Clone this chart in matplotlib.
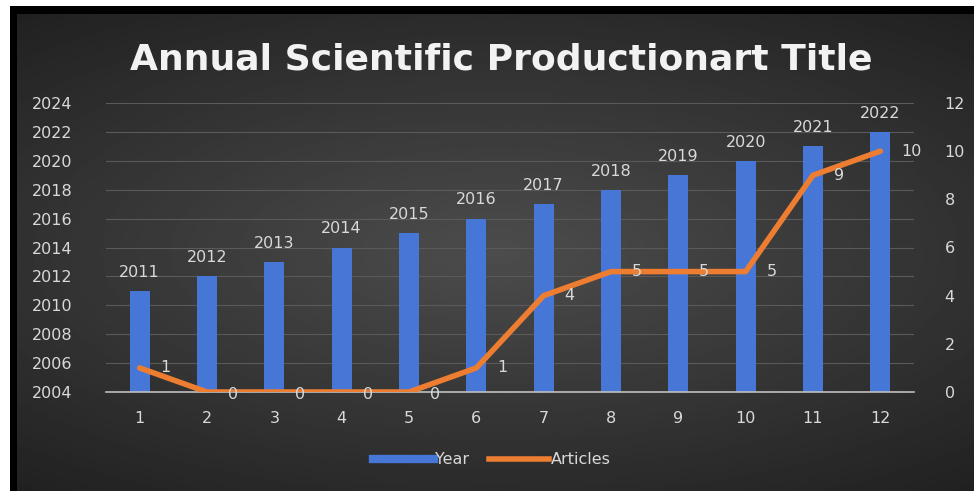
import numpy as np
import matplotlib
matplotlib.use('Agg')
import matplotlib.pyplot as plt
from matplotlib.lines import Line2D

# Data
categories = [1, 2, 3, 4, 5, 6, 7, 8, 9, 10, 11, 12]
years = [2011, 2012, 2013, 2014, 2015, 2016, 2017, 2018, 2019, 2020, 2021, 2022]
articles = [1, 0, 0, 0, 0, 1, 4, 5, 5, 5, 9, 10]
left_ticks = list(range(2004, 2025, 2))
right_ticks = list(range(0, 13, 2))

TEXT = '#d9d9d9'
BLUE = '#4676d6'
ORANGE = '#ed7d31'

W, H = 974, 497
fig = plt.figure(figsize=(W / 100, H / 100), dpi=100)
fig.patch.set_facecolor('white')

# black frame + dark gradient chart area
frame = fig.add_axes([10 / W, 6 / H, 1 - 10 / W, 1 - 12 / H])
frame.set_facecolor('black')
frame.set_xticks([]); frame.set_yticks([])
for s in frame.spines.values():
    s.set_visible(False)

bg = fig.add_axes([17 / W, 6 / H, 1 - 17 / W, (H - 14 - 6) / H])
yy, xx = np.mgrid[-1:1:200j, -1:1:400j]
r = np.sqrt((xx * 0.9) ** 2 + (yy * 1.1) ** 2)
shade = 0.30 - 0.12 * np.clip(r, 0, 1.4)
bg.imshow(shade, cmap='gray', vmin=0, vmax=1, aspect='auto', extent=[0, 1, 0, 1])
bg.set_xticks([]); bg.set_yticks([])
for s in bg.spines.values():
    s.set_visible(False)

ax = fig.add_axes([106 / W, (H - 392) / H, 808 / W, 289 / H])
ax.patch.set_alpha(0)
ax.bar(categories, years, width=0.3, color=BLUE, zorder=2)
ax.set_xlim(0.5, 12.5)
ax.set_ylim(2004, 2024)
ax.set_yticks(left_ticks)
ax.set_xticks(categories)
ax.grid(axis='y', color='#5a5a5a', linewidth=0.8, zorder=0)
ax.tick_params(length=0, colors=TEXT, labelsize=11.5)
ax.tick_params(axis='y', pad=24)
ax.tick_params(axis='x', pad=14)
for name, s in ax.spines.items():
    s.set_visible(name == 'bottom')
ax.spines['bottom'].set_color('#bfbfbf')
ax.spines['bottom'].set_linewidth(1.2)
for x, y in zip(categories, years):
    ax.annotate(str(y), (x, y), xytext=(0, 8), textcoords='offset points',
                ha='center', va='bottom', color=TEXT, fontsize=11.5)

ax2 = ax.twinx()
ax2.plot(categories, articles, color=ORANGE, linewidth=4, solid_capstyle='round',
         solid_joinstyle='round', zorder=3)
ax2.set_ylim(0, 12)
ax2.set_yticks(right_ticks)
ax2.tick_params(length=0, colors=TEXT, labelsize=11.5, pad=22)
for s in ax2.spines.values():
    s.set_visible(False)
for x, v in zip(categories, articles):
    ax2.annotate(str(v), (x, v), xytext=(15, -2 if v == 0 else 0), textcoords='offset points',
                 ha='left', va='center', color=TEXT, fontsize=11.5)

fig.text(501 / W, (H - 60) / H, 'Annual Scientific Productionart Title', ha='center',
         va='center', color='#f2f2f2', fontsize=26, fontweight='bold')

handles = [Line2D([0], [0], color=BLUE, linewidth=6),
           Line2D([0], [0], color=ORANGE, linewidth=4)]
fig.legend(handles, ['Year', 'Articles'], loc='center', bbox_to_anchor=(0.505, (H - 460) / H),
           ncol=2, frameon=False, fontsize=11.5, labelcolor=TEXT, handlelength=3.8,
           handletextpad=0.1, columnspacing=1.2)

fig.savefig('out.png', dpi=100)
